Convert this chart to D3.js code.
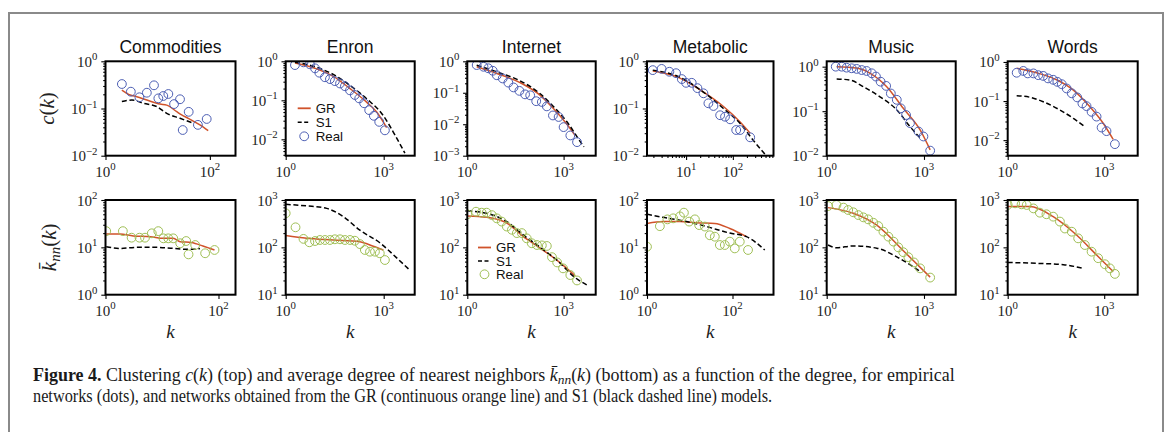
<!DOCTYPE html>
<html lang="en">
<head>
<meta charset="UTF-8">
<title>Figure 4 - clustering and nearest neighbour degree</title>
<script src="https://d3js.org/d3.v7.min.js"></script>
<style>
  body { margin: 0; background: #fff; }
  svg { display: block; }
</style>
</head>
<body>
<script>
// ---- values: [k, value] ----
const networks = ["Commodities", "Enron", "Internet", "Metabolic", "Music", "Words"];

// clustering c(k), top row
const commoditiesCReal = [[2.06,0.33],[3.06,0.227],[4.47,0.173],[6.2,0.216],[8.5,0.31],[10.3,0.164],[12.8,0.184],[16,0.203],[20.6,0.124],[26.8,0.157],[30.2,0.035],[39.3,0.085],[59,0.045],[87,0.06]];
const commoditiesCGR = [[2.06,0.246],[2.97,0.193],[3.98,0.178],[6.2,0.151],[11.1,0.124],[14.9,0.118],[23.2,0.0855],[28.8,0.073],[38.6,0.062],[64.5,0.045],[93,0.034]];
const commoditiesCS1 = [[2.06,0.14],[3.2,0.151],[5.3,0.129],[9.6,0.11],[14.9,0.079],[26.8,0.062],[48,0.049]];

const enronCReal = [[1.92,0.8],[3.5,0.94],[5.5,0.84],[7.9,0.66],[10.7,0.51],[15.9,0.39],[22.6,0.35],[32,0.31],[46,0.27],[65,0.23],[93,0.18],[131,0.137],[178,0.112],[252,0.084],[360,0.056],[500,0.04],[730,0.028],[1090,0.017]];
const enronCGR = [[1.92,0.9],[8.9,0.64],[28.6,0.41],[93,0.2],[300,0.09],[610,0.05],[1230,0.02]];
const enronCS1 = [[1.92,0.95],[8.9,0.7],[28.6,0.46],[93,0.24],[300,0.11],[980,0.04],[2200,0.013],[4460,0.0044]];

const internetCReal = [[1.96,0.76],[3.2,0.67],[4.5,0.6],[6.2,0.5],[8.3,0.36],[12.7,0.285],[19,0.21],[27.5,0.148],[42,0.115],[63,0.089],[91,0.083],[140,0.054],[210,0.051],[300,0.037],[465,0.019],[700,0.017],[1000,0.0081],[1620,0.0044],[2620,0.0027]];
const internetCGR = [[1.96,0.67],[8.3,0.41],[44,0.21],[187,0.083],[490,0.031],[1270,0.01],[2300,0.0044]];
const internetCS1 = [[1.96,0.75],[8.3,0.46],[44,0.24],[187,0.093],[490,0.036],[1270,0.012],[3300,0.0028],[4300,0.0019]];

const metabolicCReal = [[1.94,0.65],[3.0,0.69],[4.4,0.6],[6.1,0.56],[8.1,0.42],[10,0.35],[13.2,0.35],[17.5,0.27],[23.5,0.21],[30,0.129],[38.5,0.113],[53.5,0.072],[68,0.067],[87.5,0.059],[118,0.035],[143,0.035],[235,0.0245]];
const metabolicCGR = [[1.94,0.62],[7.4,0.44],[20,0.247],[63,0.11],[143,0.052],[235,0.03]];
const metabolicCS1 = [[1.94,0.65],[7.4,0.46],[20,0.25],[63,0.1],[143,0.048],[275,0.021],[540,0.0095]];

const musicCReal = [[1.9,1.0],[2.9,1.0],[4.1,0.95],[5.9,0.92],[8.4,0.89],[12,0.84],[17,0.8],[24.5,0.71],[33,0.6],[46,0.46],[68,0.37],[95,0.25],[145,0.18],[192,0.116],[280,0.082],[370,0.054],[675,0.035],[960,0.027],[1550,0.013]];
const musicCGR = [[2.03,1.0],[8.4,0.93],[22,0.71],[71,0.355],[230,0.116],[760,0.038],[1550,0.0135]];
const musicCS1 = [[2.03,0.53],[5.2,0.5],[13.5,0.355],[44,0.21],[145,0.107],[370,0.045],[760,0.025]];

const wordsCReal = [[1.9,0.53],[3.05,0.59],[4.2,0.51],[6.3,0.51],[8.9,0.46],[12.7,0.44],[18,0.38],[26,0.35],[35,0.31],[48,0.27],[68,0.21],[98,0.158],[145,0.124],[210,0.087],[283,0.074],[405,0.053],[580,0.04],[830,0.021],[1180,0.017],[2150,0.0079]];
const wordsCGR = [[1.9,0.69],[7.9,0.53],[33,0.35],[110,0.19],[360,0.071],[930,0.027],[1900,0.0104]];
const wordsCS1 = [[1.9,0.137],[4.9,0.125],[12.7,0.096],[42,0.059],[110,0.036],[250,0.022]];

// average nearest neighbour degree knn(k), bottom row
const commoditiesKReal = [[1.03,22],[2.03,22],[2.9,16],[4,16],[5,16],[6.6,19.8],[8.6,22],[10.6,15.5],[12.9,15.5],[15.8,15.5],[21,12.2],[26.8,13.6],[29.5,7.1],[38.7,11.2],[58,7.5],[85,8.8]];
const commoditiesKGR = [[1.03,19.1],[1.8,19.1],[3.1,17.4],[6.2,16.8],[10.6,15.5],[15.8,15.5],[21,13.2],[33,12.6],[53,10.7],[85,8.8]];
const commoditiesKS1 = [[1.03,10.3],[1.8,9.5],[3.6,10],[8.1,10],[15.8,9.5],[27.8,9.1],[38.7,9.1],[47,9.5]];

const enronKReal = [[1,524],[2,265],[3.5,151],[5.3,128],[7.9,136],[11.2,143],[15.9,143],[22.6,143],[32,148],[46,148],[65,143],[93,143],[131,138],[187,117],[265,88],[380,81],[540,81],[760,75],[1090,54]];
const enronKGR = [[1,177],[4.4,155],[28.6,143],[187,132],[380,112],[980,88]];
const enronKS1 = [[1,810],[4.4,750],[18,665],[58,445],[187,230],[760,125],[2500,60],[6300,33]];

const internetKReal = [[1,500],[1.87,566],[2.8,540],[4,540],[5.8,480],[8.3,410],[11.8,350],[17,275],[24.5,235],[35,200],[50,200],[71,155],[102,122],[148,112],[210,110],[300,107],[435,62],[630,48],[960,36],[1620,26],[2620,20]];
const internetKGR = [[1,460],[4,430],[17,325],[56,168],[187,96],[630,53],[2300,25]];
const internetKS1 = [[1,590],[4,525],[17,350],[56,182],[187,100],[630,53],[2100,24],[5300,16]];

const metabolicKReal = [[1,10.3],[2.0,28],[3.0,39],[4.1,41],[5.9,45],[7.3,54],[9.7,35],[13.2,39],[16.6,29.5],[22.6,27.5],[29.5,18],[38.6,16.8],[50.6,11.2],[66,11.2],[86.5,13.2],[113,9.5],[148,13.2],[231,8.8]];
const metabolicKGR = [[1,32],[2.4,35],[5.9,35],[14.4,33],[38.6,32],[86.5,25],[212,16.8]];
const metabolicKS1 = [[1,50],[2.4,43],[8.4,35],[24.6,27.5],[86.5,20],[212,16.8],[568,8.8]];

const musicKReal = [[1.1,745],[2,785],[3.3,690],[4.6,615],[6.6,550],[9.5,480],[13.5,430],[19,390],[27.5,330],[39,282],[56,214],[80,168],[115,132],[162,100],[230,79],[330,62],[490,48],[760,36],[1550,23]];
const musicKGR = [[1.1,690],[6.6,525],[35,295],[230,85],[1550,23.5]];
const musicKS1 = [[1.1,112],[2,98],[6.6,107],[35,96],[145,63],[370,43],[760,31]];

const wordsKReal = [[1,785],[1.7,850],[2.7,810],[3.9,785],[6.3,665],[10,540],[16,500],[26,445],[42,350],[60,250],[98,214],[155,155],[250,112],[405,81],[650,59],[1050,44],[1500,36],[2150,27.5]];
const wordsKGR = [[1,725],[4.9,725],[26,445],[138,182],[580,69],[1900,31]];
const wordsKS1 = [[1,48],[7.9,46],[54,43],[224,36]];

// axis limits and tick values
const xRangeTop = [[1,310],[1,8900],[1,10000],[1.46,740],[1,9500],[1,11000]];
const xRangeBottom = [[1,200],[1,8900],[1,10000],[1,910],[1,9500],[1,11000]];
const yRangeTop = [[0.01,1],[0.0038,1],[0.001,1],[0.01,1],[0.01,1.32],[0.004,1.04]];
const yRangeBottom = [[1,100],[10,1000],[10,1000],[1,100],[10,1000],[10,1000]];
const xTicksTop = [[1,100],[1,1000],[1,1000],[10,100],[1,1000],[1,1000]];
const xTicksBottom = [[1,100],[1,1000],[1,1000],[1,100],[1,1000],[1,1000]];
const yTicksTop = [[1,0.1,0.01],[1,0.1,0.01],[1,0.1,0.01,0.001],[1,0.1,0.01],[1,0.1,0.01],[1,0.1,0.01]];
const yTicksBottom = [[1,10,100],[10,100,1000],[10,100,1000],[1,10,100],[10,100,1000],[10,100,1000]];

const topSeries = [
  [commoditiesCReal, commoditiesCGR, commoditiesCS1],
  [enronCReal, enronCGR, enronCS1],
  [internetCReal, internetCGR, internetCS1],
  [metabolicCReal, metabolicCGR, metabolicCS1],
  [musicCReal, musicCGR, musicCS1],
  [wordsCReal, wordsCGR, wordsCS1]
];
const bottomSeries = [
  [commoditiesKReal, commoditiesKGR, commoditiesKS1],
  [enronKReal, enronKGR, enronKS1],
  [internetKReal, internetKGR, internetKS1],
  [metabolicKReal, metabolicKGR, metabolicKS1],
  [musicKReal, musicKGR, musicKS1],
  [wordsKReal, wordsKGR, wordsKS1]
];
const legendLabels = ["GR", "S1", "Real"];

// ---- layout ----
const W = 1169, H = 432;
const panelLeft = [105.5, 285.7, 467.3, 647, 826.7, 1007.7];
const panelRight = [235.5, 414.7, 595.7, 773.5, 955.7, 1137.7];
const rows = [{top: 61.3, bottom: 155.7}, {top: 200, bottom: 294.7}];

const orange = "#d0532b", blue = "#4d5fb4", green = "#9fbf55";
const SANS = "'Liberation Sans', Arial, sans-serif";
const SERIF = "'Liberation Serif', 'Times New Roman', serif";

const svg = d3.select("body").append("svg")
  .attr("width", W).attr("height", H)
  .attr("font-family", SERIF);

// grey border of the figure box
svg.append("rect")
  .attr("x", 9).attr("y", 13).attr("width", 1154).attr("height", 440)
  .attr("fill", "none").attr("stroke", "#8a8a8a").attr("stroke-width", 2);

function minorTicks(dom) {
  const out = [];
  const lo = Math.floor(Math.log10(dom[0])), hi = Math.ceil(Math.log10(dom[1]));
  for (let e = lo; e <= hi; e++) {
    for (let m = 2; m <= 9; m++) {
      const v = m * Math.pow(10, e);
      if (v >= dom[0] && v <= dom[1]) out.push(v);
    }
  }
  return out;
}

// minor ticks only where majors sit on consecutive decades (matplotlib behaviour)
function consecutive(ticks) {
  const l = ticks.map(t => Math.log10(t)).sort((a, b) => a - b);
  for (let i = 1; i < l.length; i++) if (Math.round(l[i] - l[i - 1]) !== 1) return false;
  return true;
}

function powLabel(sel, v) {
  const e = Math.round(Math.log10(v));
  sel.append("tspan").text("10");
  sel.append("tspan").attr("dy", "-0.6em").attr("font-size", "0.72em")
    .text(e < 0 ? "\u2212" + Math.abs(e) : String(e));
}

function drawPanel(i, r) {
  const row = rows[r];
  const x0 = panelLeft[i], x1 = panelRight[i];
  const xdom = r === 0 ? xRangeTop[i] : xRangeBottom[i];
  const ydom = r === 0 ? yRangeTop[i] : yRangeBottom[i];
  const xt = r === 0 ? xTicksTop[i] : xTicksBottom[i];
  const yt = r === 0 ? yTicksTop[i] : yTicksBottom[i];
  const series = r === 0 ? topSeries[i] : bottomSeries[i];
  const dotColor = r === 0 ? blue : green;

  const x = d3.scaleLog().domain(xdom).range([x0, x1]);
  const y = d3.scaleLog().domain(ydom).range([row.bottom, row.top]);

  const g = svg.append("g");
  const clipId = "clip" + i + "_" + r;
  g.append("clipPath").attr("id", clipId).append("rect")
    .attr("x", x0).attr("y", row.top).attr("width", x1 - x0).attr("height", row.bottom - row.top);

  const plot = g.append("g").attr("clip-path", "url(#" + clipId + ")");
  const line = d3.line().x(d => x(d[0])).y(d => y(d[1])).curve(d3.curveMonotoneX);

  plot.append("path").datum(series[1]).attr("d", line)
    .attr("fill", "none").attr("stroke", orange).attr("stroke-width", 1.5);
  plot.append("path").datum(series[2]).attr("d", line)
    .attr("fill", "none").attr("stroke", "#000").attr("stroke-width", 1.5)
    .attr("stroke-dasharray", "5,2.7");
  plot.selectAll("circle").data(series[0]).join("circle")
    .attr("cx", d => x(d[0])).attr("cy", d => y(d[1])).attr("r", 4.4)
    .attr("fill", "none").attr("stroke", dotColor).attr("stroke-width", 1);

  // ticks
  const xAxisG = g.append("g").attr("transform", "translate(0," + row.bottom + ")");
  if (consecutive(xt)) {
    xAxisG.append("g").call(d3.axisBottom(x).tickValues(minorTicks(xdom)).tickSize(2.3).tickFormat(""));
  }
  xAxisG.append("g").call(d3.axisBottom(x).tickValues(xt).tickSize(4.2).tickFormat(""));

  const yAxisG = g.append("g").attr("transform", "translate(" + x0 + ",0)");
  yAxisG.append("g").call(d3.axisLeft(y).tickValues(minorTicks(ydom)).tickSize(2.3).tickFormat(""));
  yAxisG.append("g").call(d3.axisLeft(y).tickValues(yt).tickSize(4.2).tickFormat(""));

  g.selectAll(".domain").remove();
  g.selectAll(".tick line").attr("stroke", "#000").attr("stroke-width", 1.1);

  // tick labels
  xt.forEach(v => {
    g.append("text").attr("x", x(v)).attr("y", row.bottom + 21)
      .attr("text-anchor", "middle").attr("font-size", 15).attr("fill", "#222")
      .call(powLabel, v);
  });
  yt.forEach(v => {
    g.append("text").attr("x", x0 - 8).attr("y", y(v) + 5.5)
      .attr("text-anchor", "end").attr("font-size", 15).attr("fill", "#222")
      .call(powLabel, v);
  });

  // frame
  g.append("rect").attr("x", x0).attr("y", row.top)
    .attr("width", x1 - x0).attr("height", row.bottom - row.top)
    .attr("fill", "none").attr("stroke", "#000").attr("stroke-width", 2);

  return {x, y, g, dotColor};
}

function legend(g, lx, ly, step, dotColor) {
  legendLabels.forEach((lab, j) => {
    const yy = ly + j * step;
    if (j === 0) {
      g.append("line").attr("x1", lx).attr("x2", lx + 13).attr("y1", yy).attr("y2", yy)
        .attr("stroke", orange).attr("stroke-width", 1.8);
    } else if (j === 1) {
      g.append("line").attr("x1", lx).attr("x2", lx + 13).attr("y1", yy).attr("y2", yy)
        .attr("stroke", "#000").attr("stroke-width", 1.5).attr("stroke-dasharray", "4,2.5");
    } else {
      g.append("circle").attr("cx", lx + 6.5).attr("cy", yy).attr("r", 4.4)
        .attr("fill", "none").attr("stroke", dotColor).attr("stroke-width", 1);
    }
    g.append("text").attr("x", lx + 18).attr("y", yy + 4.6)
      .attr("font-family", SANS).attr("font-size", 13.3).attr("fill", "#111").text(lab);
  });
}

networks.forEach((name, i) => {
  const top = drawPanel(i, 0);
  const bot = drawPanel(i, 1);

  svg.append("text")
    .attr("x", (panelLeft[i] + panelRight[i]) / 2).attr("y", 53)
    .attr("text-anchor", "middle").attr("font-family", SANS).attr("font-size", 17.5)
    .attr("fill", "#111").text(name);

  svg.append("text")
    .attr("x", (panelLeft[i] + panelRight[i]) / 2).attr("y", 338)
    .attr("text-anchor", "middle").attr("font-style", "italic").attr("font-size", 19)
    .attr("fill", "#222").text("k");

  if (name === "Enron") legend(top.g, 297.7, 108.3, 14, blue);
  if (name === "Internet") legend(bot.g, 478, 247.5, 13.4, green);
});

// y axis labels
const cLab = svg.append("text")
  .attr("transform", "translate(54," + (rows[0].top + rows[0].bottom) / 2 + ") rotate(-90)")
  .attr("text-anchor", "middle").attr("font-size", 21).attr("fill", "#222");
cLab.append("tspan").attr("font-style", "italic").text("c");
cLab.append("tspan").text("(");
cLab.append("tspan").attr("font-style", "italic").text("k");
cLab.append("tspan").text(")");

const kLab = svg.append("text")
  .attr("transform", "translate(56," + (rows[1].top + rows[1].bottom) / 2 + ") rotate(-90)")
  .attr("text-anchor", "middle").attr("font-size", 21).attr("fill", "#222");
kLab.append("tspan").attr("font-style", "italic").text("k\u0304");
kLab.append("tspan").attr("font-style", "italic").attr("font-size", 15).attr("dy", 4).text("nn");
kLab.append("tspan").attr("dy", -4).text("(");
kLab.append("tspan").attr("font-style", "italic").text("k");
kLab.append("tspan").text(")");

// caption: both lines share one height; each line is fitted to its measured width
function captionLine(parts) {
  const g = svg.append("g");
  const t = g.append("text").attr("x", 0).attr("y", 0).attr("font-size", 16).attr("fill", "#1a1a1a")
    .attr("xml:space", "preserve");
  parts.forEach(p => {
    const s = t.append("tspan").text(p.t);
    if (p.b) s.attr("font-weight", "bold");
    if (p.i) s.attr("font-style", "italic");
    if (p.sub) s.attr("font-size", 12).attr("dy", 3);
    if (p.back) s.attr("dy", -3);
  });
  return {g, w: t.node().getComputedTextLength()};
}

const cap1 = captionLine([
  {t: "Figure 4.", b: true},
  {t: " Clustering "}, {t: "c", i: true}, {t: "("}, {t: "k", i: true}, {t: ") (top) and average degree of nearest neighbors "},
  {t: "k\u0304", i: true}, {t: "nn", i: true, sub: true}, {t: "(", back: true}, {t: "k", i: true},
  {t: ") (bottom) as a function of the degree, for empirical"}
]);
const cap2 = captionLine([
  {t: "networks (dots), and networks obtained from the GR (continuous orange line) and S1 (black dashed line) models."}
]);
const capY = 922 / cap1.w;
cap1.g.attr("transform", "translate(33,381) scale(" + capY + "," + capY + ")");
cap2.g.attr("transform", "translate(33,402) scale(" + (740 / cap2.w) + "," + capY + ")");
</script>
</body>
</html>
